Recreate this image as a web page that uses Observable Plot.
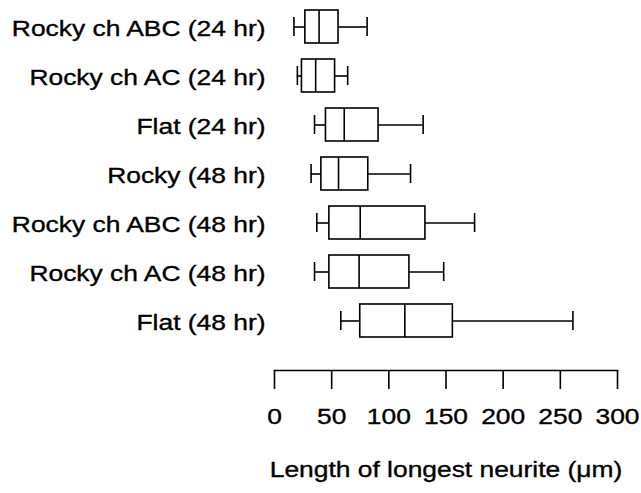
<!DOCTYPE html>
<html>
<head>
<meta charset="utf-8">
<script src="https://cdn.jsdelivr.net/npm/d3@7"></script>
<script src="https://cdn.jsdelivr.net/npm/@observablehq/plot@0.6"></script>
<style>
  html, body { margin: 0; padding: 0; background: #fff; }
  #chart svg { display: block; }
</style>
</head>
<body>
<div id="chart"></div>
<script>
const categories = [
  "Rocky ch ABC (24 hr)",
  "Rocky ch AC (24 hr)",
  "Flat (24 hr)",
  "Rocky (48 hr)",
  "Rocky ch ABC (48 hr)",
  "Rocky ch AC (48 hr)",
  "Flat (48 hr)"
];
const whiskerLow  = [17, 20, 35, 32, 37, 35, 58];
const q1          = [27, 24, 45, 41, 48, 48, 75];
const median      = [39, 36, 61, 56, 75, 74, 114];
const q3          = [56, 53, 91, 82, 132, 118, 156];
const whiskerHigh = [81, 64, 130, 119, 175, 148, 261];
const xTicks = [0, 50, 100, 150, 200, 250, 300];
const xTitle = "Length of longest neurite (\u03bcm)";

const data = categories.map((c, i) => ({
  cat: c, lo: whiskerLow[i], q1: q1[i], med: median[i], q3: q3[i], hi: whiskerHigh[i]
}));

const FONT = "'Liberation Sans', Arial, Helvetica, sans-serif";
const SW = 1.6;

const chart = Plot.plot({
  width: 641,
  height: 493,
  marginLeft: 274,
  marginRight: 24,
  marginTop: 0,
  marginBottom: 123,
  style: { fontFamily: FONT, fontSize: "22px", color: "#000", background: "#fff", overflow: "visible" },
  x: { domain: [0, 300] },
  y: { domain: categories, range: [0.33, 345.67], paddingInner: 0.33, paddingOuter: 0.165 },
  marks: [
    Plot.frame({ anchor: "bottom", stroke: "#000", strokeWidth: SW }),
    Plot.axisX({ ticks: xTicks, tickSize: 19, tickPadding: 19, fontSize: 22, label: null, stroke: "#000", strokeWidth: SW, fill: "#000" }),
    Plot.axisY({ tickSize: 0, tickPadding: 9, fontSize: 22, label: null, fill: "#000", dy: 2 }),
    Plot.ruleY(data, { y: "cat", x1: "lo", x2: "q1", stroke: "#000", strokeWidth: SW }),
    Plot.ruleY(data, { y: "cat", x1: "q3", x2: "hi", stroke: "#000", strokeWidth: SW }),
    Plot.tickX(data, { x: "lo", y: "cat", insetTop: 7, insetBottom: 7, stroke: "#000", strokeWidth: SW }),
    Plot.tickX(data, { x: "hi", y: "cat", insetTop: 7, insetBottom: 7, stroke: "#000", strokeWidth: SW }),
    Plot.barX(data, { x1: "q1", x2: "q3", y: "cat", fill: "#fff", stroke: "#000", strokeWidth: SW }),
    Plot.tickX(data, { x: "med", y: "cat", stroke: "#000", strokeWidth: SW }),
    Plot.text([xTitle], { frameAnchor: "bottom", dy: 106, lineAnchor: "bottom", fontSize: 22, fill: "#000" })
  ]
});

document.getElementById("chart").appendChild(chart);

// widen the glyphs horizontally (around each text's anchor) and thicken slightly, like the reference's lettering
const SX = 1.2;
d3.select(chart).selectAll("text").each(function () {
  const bb = this.getBBox();
  const anchor = getComputedStyle(this).textAnchor || "start";
  const ax = anchor === "end" ? bb.x + bb.width : anchor === "middle" ? bb.x + bb.width / 2 : bb.x;
  const t = this.getAttribute("transform") || "";
  this.setAttribute("transform", `${t} translate(${ax},0) scale(${SX},1) translate(${-ax},0)`);
  this.setAttribute("stroke", "#000");
  this.setAttribute("stroke-width", "0.35");
});
</script>
</body>
</html>
